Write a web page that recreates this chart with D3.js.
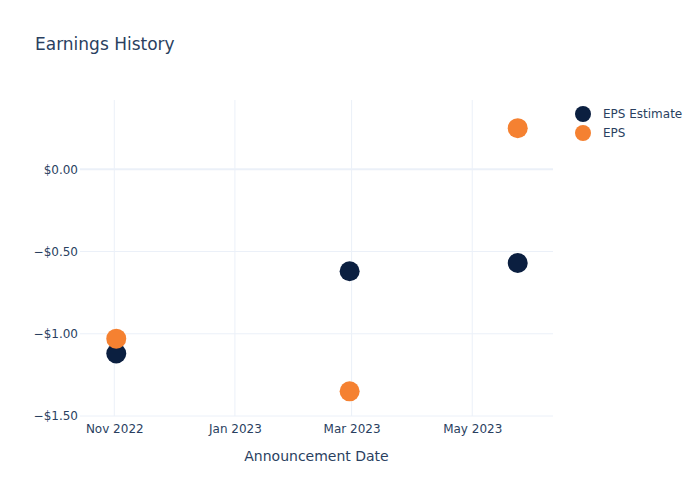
<!DOCTYPE html>
<html>
<head>
<meta charset="utf-8">
<script src="https://cdn.jsdelivr.net/npm/d3@7"></script>
<style>
body{margin:0;background:#fff;}
svg{font-family:"DejaVu Sans",Verdana,sans-serif;}
</style>
</head>
<body>
<svg id="chart" width="700" height="500"></svg>
<script>
const dates = ["2022-11-02", "2023-02-28", "2023-05-24"];
const epsEstimate = [-1.12, -0.62, -0.57];
const eps = [-1.03, -1.35, 0.25];
const yTicks = [0, -0.5, -1.0, -1.5];
const xTickDates = ["2022-11-01", "2023-01-01", "2023-03-01", "2023-05-01"];
const seriesNames = ["EPS Estimate", "EPS"];
const seriesColors = ["#0b1f40", "#f58131"];

const parse = d3.utcParse("%Y-%m-%d");
const svg = d3.select("#chart");
const pLeft = 80, pRight = 553, pTop = 100, pBottom = 416;

const x = d3.scaleUtc()
  .domain([new Date(Date.UTC(2022, 9, 14, 16)), new Date(Date.UTC(2023, 5, 10, 20))])
  .range([pLeft, pRight]);
const y = d3.scaleLinear().domain([-1.5, 0.421]).range([pBottom, pTop]);

const textColor = "#2a3f5f";
const gridColor = "#ebf0f8";

// title
svg.append("text").attr("x", 35).attr("y", 50).attr("fill", textColor)
  .attr("font-size", 17).text("Earnings History");

// grid
const g = svg.append("g");
g.selectAll("line.vg").data(xTickDates).join("line")
  .attr("x1", d => x(parse(d))).attr("x2", d => x(parse(d)))
  .attr("y1", pTop).attr("y2", pBottom)
  .attr("stroke", gridColor).attr("stroke-width", 1);
g.selectAll("line.hg").data(yTicks).join("line")
  .attr("x1", pLeft).attr("x2", pRight)
  .attr("y1", d => y(d)).attr("y2", d => y(d))
  .attr("stroke", gridColor).attr("stroke-width", d => d === 0 ? 2 : 1);

// y axis
const fmt = v => (v < 0 ? "\u2212" : "") + "$" + Math.abs(v).toFixed(2);
const yAxis = d3.axisLeft(y).tickValues(yTicks).tickFormat(fmt).tickSize(0).tickPadding(2);
const ya = svg.append("g").attr("transform", `translate(${pLeft},0)`).call(yAxis);
ya.select(".domain").remove();
ya.selectAll("text").attr("fill", textColor).attr("font-size", 12)
  .attr("font-family", "DejaVu Sans, sans-serif");

// x axis
const xAxis = d3.axisBottom(x).tickValues(xTickDates.map(parse))
  .tickFormat(d3.utcFormat("%b %Y")).tickSize(0).tickPadding(8);
const xa = svg.append("g").attr("transform", `translate(0,${pBottom})`).call(xAxis);
xa.select(".domain").remove();
xa.selectAll("text").attr("fill", textColor).attr("font-size", 12)
  .attr("font-family", "DejaVu Sans, sans-serif");

svg.append("text").attr("x", (pLeft + pRight) / 2).attr("y", 461)
  .attr("text-anchor", "middle").attr("fill", textColor).attr("font-size", 14)
  .text("Announcement Date");

// points
const series = [epsEstimate, eps];
series.forEach((vals, i) => {
  svg.append("g").selectAll("circle").data(vals).join("circle")
    .attr("cx", (d, j) => x(parse(dates[j])))
    .attr("cy", d => y(d))
    .attr("r", 10)
    .attr("fill", seriesColors[i]);
});

// legend
const lg = svg.append("g");
seriesNames.forEach((n, i) => {
  lg.append("circle").attr("cx", 583).attr("cy", 114 + i * 19).attr("r", 8)
    .attr("fill", seriesColors[i]);
  lg.append("text").attr("x", 603).attr("y", 114 + i * 19).attr("dy", "0.35em")
    .attr("fill", textColor).attr("font-size", 12).text(n);
});
</script>
</body>
</html>
